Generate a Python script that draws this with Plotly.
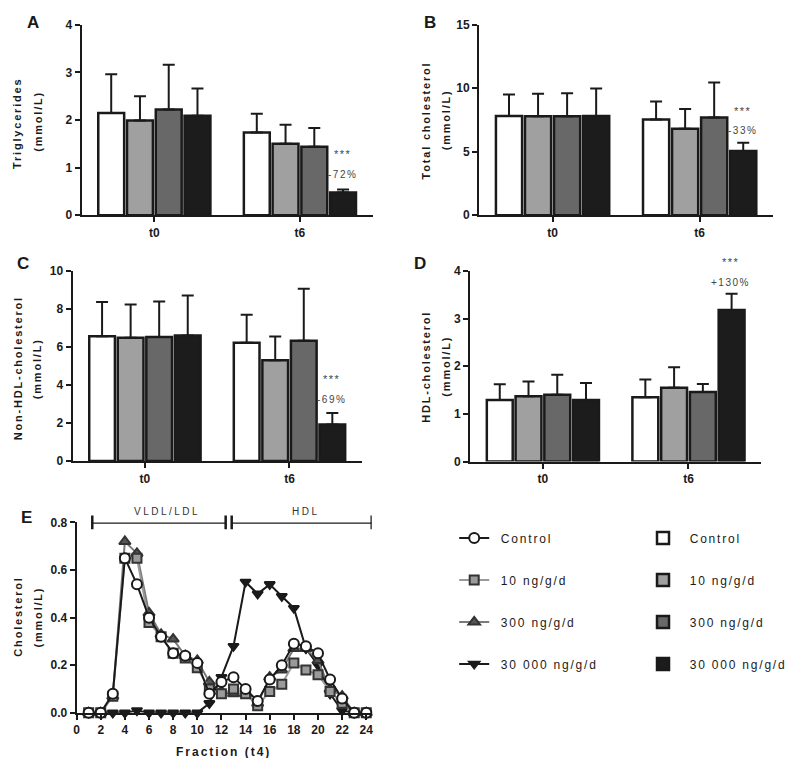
import plotly.graph_objects as go

# ---------------- data ----------------
groups = ["Control", "10 ng/g/d", "300 ng/g/d", "30 000 ng/g/d"]
times = ["t0", "t6"]

tg_mean = [[2.15, 1.74], [1.99, 1.50], [2.22, 1.44], [2.09, 0.48]]
tg_err = [[0.81, 0.39], [0.51, 0.40], [0.94, 0.39], [0.57, 0.06]]

tc_mean = [[7.82, 7.54], [7.80, 6.82], [7.80, 7.69], [7.82, 5.07]]
tc_err = [[1.70, 1.41], [1.77, 1.54], [1.80, 2.76], [2.16, 0.64]]

nhdl_mean = [[6.57, 6.22], [6.48, 5.30], [6.52, 6.33], [6.60, 1.93]]
nhdl_err = [[1.80, 1.48], [1.75, 1.25], [1.87, 2.73], [2.11, 0.60]]

hdl_mean = [[1.29, 1.35], [1.37, 1.55], [1.40, 1.46], [1.29, 3.18]]
hdl_err = [[0.33, 0.37], [0.31, 0.43], [0.42, 0.17], [0.36, 0.34]]

fractions = list(range(1, 25))
fpl_control = [0, 0, 0.08, 0.65, 0.54, 0.40, 0.32, 0.25, 0.24, 0.21, 0.08, 0.13,
               0.15, 0.10, 0.05, 0.14, 0.20, 0.29, 0.28, 0.25, 0.14, 0.06, 0, 0]
fpl_10 = [0, 0, 0.07, 0.65, 0.65, 0.38, 0.32, 0.25, 0.23, 0.19, 0.10, 0.08,
          0.10, 0.08, 0.03, 0.09, 0.12, 0.21, 0.18, 0.16, 0.09, 0.04, 0, 0]
fpl_300 = [0, 0, 0.07, 0.72, 0.67, 0.42, 0.33, 0.31, 0.24, 0.22, 0.13, 0.09,
           0.08, 0.08, 0.04, 0.15, 0.18, 0.27, 0.27, 0.22, 0.10, 0.07, 0, 0]
fpl_30000 = [0, 0, 0, 0, 0.01, 0, 0, 0, 0, 0, 0.04, 0.15,
             0.28, 0.55, 0.50, 0.54, 0.49, 0.44, 0.27, 0.20, 0.08, 0.01, 0, 0]

# ---------------- style ----------------
FONT = "Liberation Sans, Arial, sans-serif"
INK = "#1a1a1a"
bar_fill = ["#ffffff", "#a0a0a0", "#686868", "#1c1c1c"]
W, H = 797, 758


def px_x(p):
    return p / W


def px_y(p):
    return 1 - p / H


def sp(text, ls=1.5):
    return f'<span style="letter-spacing:{ls}px">{text}</span>'


def leg(text):
    return "\u00a0\u00a0" + sp(text, 1.8)


fig = go.Figure()

panels = [
    ("x", "y", tg_mean, tg_err, True),
    ("x2", "y2", tc_mean, tc_err, False),
    ("x3", "y3", nhdl_mean, nhdl_err, False),
    ("x4", "y4", hdl_mean, hdl_err, False),
]
for xa, ya, means, errs, show in panels:
    for gi, g in enumerate(groups):
        fig.add_trace(go.Bar(
            x=times, y=means[gi], name=leg(g), xaxis=xa, yaxis=ya,
            marker=dict(color=bar_fill[gi], line=dict(color=INK, width=2.5)),
            error_y=dict(type="data", symmetric=False, array=errs[gi],
                         arrayminus=[0, 0], color=INK, thickness=2, width=6),
            showlegend=show, legend="legend2", legendgroup="b" + str(gi),
            offsetgroup=str(gi),
        ))

line_specs = [
    (fpl_control, "circle", "#ffffff", INK, INK, 10),
    (fpl_10, "square", "#9a9a9a", "#333333", "#9a9a9a", 9),
    (fpl_300, "triangle-up", "#555555", "#333333", "#7a7a7a", 10),
    (fpl_30000, "triangle-down", INK, INK, INK, 9),
]
order = [3, 2, 1, 0]
for gi in order:
    vals, sym, fill, edge, lc, size = line_specs[gi]
    fig.add_trace(go.Scatter(
        x=fractions, y=vals, mode="lines+markers", name=leg(groups[gi]),
        xaxis="x5", yaxis="y5", cliponaxis=False,
        line=dict(color=lc, width=2),
        marker=dict(symbol=sym, size=size, color=fill, line=dict(color=edge, width=2)),
        legend="legend", legendgroup="l" + str(gi), legendrank=gi,
    ))

axis_common = dict(showline=True, linecolor=INK, linewidth=2, ticks="outside",
                   tickcolor=INK, tickwidth=2, ticklen=5, showgrid=False,
                   zeroline=False,
                   tickfont=dict(family=FONT, size=12, color=INK, weight="bold"))

cat_x = dict(axis_common, type="category", range=[-0.5, 1.5], ticklen=5)

layout = dict(
    width=W, height=H, margin=dict(l=0, r=0, t=0, b=0),
    paper_bgcolor="white", plot_bgcolor="white",
    barmode="group", bargap=0.21, bargroupgap=0.1,
    font=dict(family=FONT, color=INK),
    xaxis=dict(cat_x, domain=[px_x(71), px_x(364)], anchor="y"),
    yaxis=dict(axis_common, domain=[px_y(204), px_y(10)], range=[0, 4], dtick=1, anchor="x"),
    xaxis2=dict(cat_x, domain=[px_x(471), px_x(767)], anchor="y2"),
    yaxis2=dict(axis_common, domain=[px_y(204), px_y(10)], range=[0, 15], dtick=5, anchor="x2"),
    xaxis3=dict(cat_x, domain=[px_x(62), px_x(353)], anchor="y3"),
    yaxis3=dict(axis_common, domain=[px_y(454.5), px_y(260.7)], range=[0, 10], dtick=2, anchor="x3"),
    xaxis4=dict(cat_x, domain=[px_x(462), px_x(755)], anchor="y4"),
    yaxis4=dict(axis_common, domain=[px_y(455), px_y(260.7)], range=[0, 4], dtick=1, anchor="x4"),
    xaxis5=dict(axis_common, domain=[px_x(66), px_x(363)], range=[0, 24.45], dtick=2,
                tick0=0, anchor="y5"),
    yaxis5=dict(axis_common, domain=[px_y(711), px_y(517)], range=[0, 0.8], dtick=0.2,
                tickformat=".1f", anchor="x5"),
    legend=dict(x=px_x(446), y=px_y(518), xanchor="left", yanchor="top",
                font=dict(family=FONT, size=12, color=INK), tracegroupgap=23,
                bgcolor="rgba(0,0,0,0)", itemwidth=30),
    legend2=dict(x=px_x(636), y=px_y(518), xanchor="left", yanchor="top",
                 font=dict(family=FONT, size=12, color=INK), tracegroupgap=23,
                 bgcolor="rgba(0,0,0,0)", itemwidth=30),
)
fig.update_layout(**layout)

ann = []
# panel letters
for letter, xp, yp in [("A", 22, 8), ("B", 422, 8), ("C", 12, 253), ("D", 412, 253), ("E", 16, 512)]:
    ann.append(dict(text=f"<b>{letter}</b>", x=px_x(xp), y=px_y(yp), xref="paper", yref="paper",
                    xanchor="center", yanchor="middle",
                    showarrow=False, font=dict(family=FONT, size=17, color=INK)))

# y axis titles
ytitles = [
    ("Triglycerides", 6, 110), ("(mmol/L)", 27, 108),
    ("Total cholesterol", 418, 107), ("(mmol/L)", 438, 107),
    ("Non-HDL-cholesterol", 7, 360), ("(mmol/L)", 27, 360),
    ("HDL-cholesterol", 418, 358), ("(mmol/L)", 438, 358),
    ("Cholesterol", 7, 613), ("(mmol/L)", 27, 613),
]
for t, xp, yp in ytitles:
    ann.append(dict(text="<b>" + sp(t, 1.8) + "</b>", x=px_x(xp), y=px_y(yp), xref="paper",
                    yref="paper", textangle=-90, showarrow=False,
                    xanchor="center", yanchor="middle",
                    font=dict(family=FONT, size=11, color=INK)))

# significance marks (positions in pixels of the figure)
sig = [
    ("x", 1.29, 142, 163, "-72%"),
    ("x2", 1.29, 98, 118, "-33%"),
    ("x3", 1.29, 371, 392, "-69%"),
    ("x4", 1.29, 252, 273, "+130%"),
]
for xa, xv, ys, yp, pct in sig:
    ann.append(dict(text=sp("***", 1.5), x=xv, y=px_y(ys), xref=xa, yref="paper",
                    showarrow=False, xanchor="center", yanchor="middle",
                    font=dict(family=FONT, size=11, color="#444")))
    ann.append(dict(text=sp(pct, 1.5), x=xv, y=px_y(yp), xref=xa, yref="paper",
                    showarrow=False, xanchor="center", yanchor="middle",
                    font=dict(family=FONT, size=10, color="#444")))

# fraction panel labels
ann.append(dict(text=sp("VLDL/LDL", 2.5), x=7.5, y=px_y(506), xref="x5", yref="paper",
                showarrow=False, xanchor="center", yanchor="middle",
                font=dict(family=FONT, size=10, color="#333")))
ann.append(dict(text=sp("HDL", 2.5), x=19.0, y=px_y(506), xref="x5", yref="paper",
                showarrow=False, xanchor="center", yanchor="middle",
                font=dict(family=FONT, size=10, color="#333")))
ann.append(dict(text="<b>" + sp("Fraction (t4)", 2) + "</b>", x=12.2, y=px_y(751),
                xref="x5", yref="paper", showarrow=False, xanchor="center", yanchor="middle",
                font=dict(family=FONT, size=12, color=INK)))
fig.update_layout(annotations=ann)

# brackets above fraction panel
shapes = []
for x0, x1 in [(1.3, 12.35), (12.85, 24.45)]:
    shapes.append(dict(type="line", x0=x0, x1=x1, y0=0.8, y1=0.8, xref="x5", yref="y5",
                       line=dict(color=INK, width=2.5)))
    for xx in (x0, x1):
        shapes.append(dict(type="line", x0=xx, x1=xx, y0=px_y(510), y1=px_y(524), xref="x5",
                           yref="paper", line=dict(color=INK, width=2.5)))
fig.update_layout(shapes=shapes)

fig.write_html("out.html")
